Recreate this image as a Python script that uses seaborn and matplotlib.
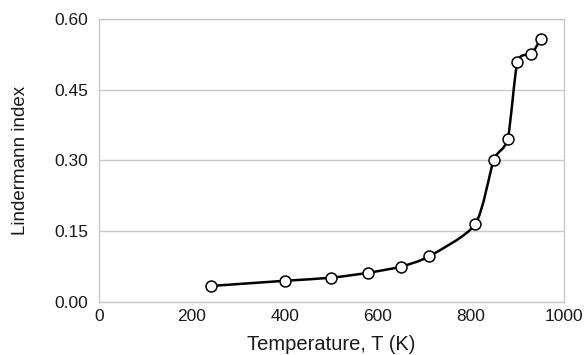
import numpy as np
import pandas as pd
import matplotlib
matplotlib.use("Agg")
import matplotlib.pyplot as plt
from matplotlib.path import Path
from matplotlib.patches import PathPatch
import seaborn as sns

temperature = [241, 400, 499, 579, 649, 710, 809, 849, 879, 900, 930, 950]
lindemann = [0.034, 0.045, 0.0515, 0.062, 0.075, 0.097, 0.165, 0.301, 0.346, 0.509, 0.526, 0.558]
x_ticks = [0, 200, 400, 600, 800, 1000]
y_ticks = [0.00, 0.15, 0.30, 0.45, 0.60]
y_tick_labels = ["0.00", "0.15", "0.30", "0.45", "0.60"]

sns.set_theme(style="white")
plt.rcParams['font.family'] = ['Liberation Sans', 'DejaVu Sans']

df = pd.DataFrame({"T": temperature, "L": lindemann})

fig = plt.figure(figsize=(5.87, 3.55), dpi=100)
ax = fig.add_axes([0.1687, 0.1493, 0.9608 - 0.1687, 0.9465 - 0.1493])

ax.set_xlim(0, 1000)
ax.set_ylim(0, 0.60)
ax.set_xticks(x_ticks)
ax.set_yticks(y_ticks)
ax.set_yticklabels(y_tick_labels)

# smooth (Excel-like) curve through the points using cubic Bezier segments
pts = np.column_stack([df["T"].values, df["L"].values])
verts = [tuple(pts[0])]
codes = [Path.MOVETO]
n = len(pts)
k = 1.0 / 8.0
for i in range(n - 1):
    p0 = pts[i - 1] if i > 0 else pts[i]
    p1 = pts[i]
    p2 = pts[i + 1]
    p3 = pts[i + 2] if i + 2 < n else pts[i + 1]
    c1 = p1 + (p2 - p0) * k
    c2 = p2 - (p3 - p1) * k
    verts += [tuple(c1), tuple(c2), tuple(p2)]
    codes += [Path.CURVE4] * 3
patch = PathPatch(Path(verts, codes), facecolor="none", edgecolor="black", lw=1.8, zorder=3)
ax.add_patch(patch)

sns.scatterplot(data=df, x="T", y="L", ax=ax, s=62, color="white",
                edgecolor="black", linewidth=1.1, zorder=4, legend=False)

ax.yaxis.grid(True, color="#c8c8c8", lw=1.0)
ax.xaxis.grid(False)
for s in ax.spines.values():
    s.set_color("#c8c8c8")
    s.set_linewidth(1.0)
ax.tick_params(axis="both", length=0, labelsize=12.5, colors="#1a1a1a")
ax.tick_params(axis="y", pad=8)
ax.tick_params(axis="x", pad=5)
ax.set_xlabel("Temperature, T (K)", fontsize=14.5, color="#1a1a1a", labelpad=8)
ax.set_ylabel("Lindermann index", fontsize=13.5, color="#1a1a1a", labelpad=18)

fig.savefig("out.png", dpi=100)
